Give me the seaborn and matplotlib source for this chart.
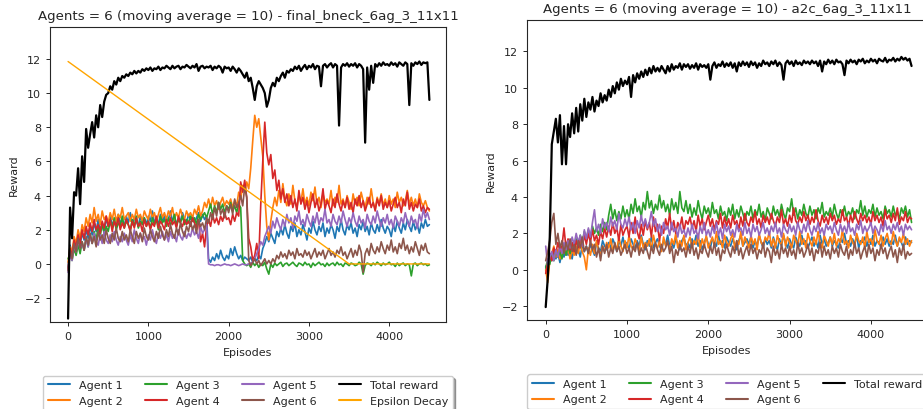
import numpy as np
import matplotlib
matplotlib.use("Agg")
import matplotlib.pyplot as plt
import seaborn as sns

# episodes sampled every 25 (moving average of 10 already applied)
episodes = np.arange(0, 4501, 25)

# ---- final_bneck_6ag_3_11x11 ----
bneck_agent1 = [
    -0.2, 1.1, 0.5, 1.3, 0.9, 1.6, 1.1, 1.8, 1.4, 2.0,
    1.5, 2.2, 1.7, 2.4, 1.9, 2.6, 2.0, 2.3, 1.8, 2.7,
    2.2, 2.8, 2.3, 2.5, 2.1, 2.9, 2.4, 2.6, 2.2, 2.8,
    2.4, 3.0, 2.3, 2.7, 2.5, 2.2, 2.8, 2.4, 2.7, 2.3,
    2.8, 2.5, 3.1, 2.4, 2.7, 2.3, 2.9, 2.5, 2.8, 2.4,
    2.6, 3.1, 2.5, 2.8, 2.3, 2.7, 2.5, 3.0, 2.6, 2.4,
    2.9, 2.6, 2.8, 2.4, 2.7, 3.0, 2.5, 2.9, 2.6, 2.8,
    0.3, 0.1, 0.4, 0.2, 0.6, 0.3, 0.8, 0.4, 0.2, 0.5,
    0.3, 0.9, 0.5, 1.0, 0.6, 0.3, 0.5, 0.2, 0.4, 0.3,
    0.2, 0.4, 0.1, 0.3, 0.2, 0.5, 0.3, 0.9, 1.2, 1.6,
    1.3, 1.8, 1.5, 1.2, 1.9, 1.6, 2.1, 1.7, 2.3, 1.8,
    1.5, 2.2, 1.9, 2.4, 1.6, 2.0, 1.7, 2.3, 1.9, 1.4,
    2.1, 1.8, 2.5, 2.0, 1.7, 2.2, 1.9, 2.4, 1.6, 2.1,
    1.8, 2.3, 2.0, 1.5, 2.2, 1.9, 2.6, 2.0, 1.7, 2.3,
    2.0, 2.4, 1.8, 2.1, 1.6, 2.3, 2.0, 2.5, 1.9, 2.2,
    1.7, 2.4, 2.0, 1.8, 2.3, 1.9, 2.6, 2.1, 1.8, 2.2,
    2.0, 1.6, 2.3, 1.9, 2.5, 2.1, 1.8, 2.4, 2.0, 2.6,
    2.2, 1.9, 2.5, 2.0, 2.3, 1.8, 2.4, 2.1, 2.6, 2.2,
    2.3]
bneck_agent2 = [
    0.1, 1.0, 0.7, 1.6, 1.2, 2.0, 1.5, 2.3, 1.9, 2.7,
    2.2, 2.9, 2.4, 3.3, 2.5, 2.9, 2.3, 3.1, 2.6, 2.8,
    2.4, 3.0, 2.6, 3.2, 2.5, 2.9, 2.7, 3.3, 2.6, 2.8,
    3.0, 2.5, 2.9, 2.6, 3.2, 2.7, 2.9, 2.5, 3.1, 2.8,
    2.6, 3.2, 2.7, 3.0, 2.5, 2.9, 3.3, 2.7, 3.0, 2.6,
    3.1, 2.8, 3.3, 2.6, 3.0, 2.7, 3.2, 2.8, 2.6, 3.1,
    2.8, 3.0, 2.7, 3.2, 2.9, 3.4, 2.8, 3.1, 3.6, 3.3,
    3.8, 3.3, 3.9, 3.4, 3.7, 3.2, 3.6, 3.9, 3.4, 3.7,
    3.5, 3.8, 3.3, 3.7, 3.4, 4.2, 3.8, 4.6, 4.2, 4.8,
    4.4, 5.6, 7.2, 8.7, 8.0, 8.5, 7.4, 6.3, 4.0, 2.2,
    1.4, 2.5, 3.3, 3.9, 3.4, 4.3, 3.6, 4.7, 3.8, 3.4,
    4.1, 3.5, 4.6, 3.7, 3.3, 4.0, 3.6, 4.4, 3.5, 3.9,
    3.4, 4.2, 3.7, 4.5, 3.5, 3.9, 3.3, 4.1, 3.6, 3.8,
    3.5, 4.3, 3.4, 3.9, 3.6, 4.6, 3.5, 3.8, 3.3, 4.0,
    3.6, 3.2, 4.1, 3.5, 3.9, 3.4, 4.2, 3.7, 3.3, 3.9,
    3.5, 4.4, 3.6, 3.2, 3.9, 3.5, 4.1, 3.4, 3.8, 3.3,
    4.0, 3.5, 3.8, 3.3, 4.2, 3.6, 3.9, 3.4, 3.7, 4.3,
    3.5, 3.9, 3.4, 3.8, 3.3, 4.1, 3.6, 3.4, 3.7, 3.3,
    3.1]
bneck_agent3 = [
    0.3, 0.6, 0.2, 0.9, 0.5, 1.1, 0.6, 1.3, 0.8, 1.5,
    1.0, 1.7, 1.2, 1.9, 1.4, 2.2, 1.6, 2.4, 1.8, 2.2,
    1.9, 2.5, 2.1, 2.7, 2.0, 2.4, 2.2, 2.8, 2.1, 2.5,
    2.3, 2.0, 2.6, 2.2, 2.8, 2.1, 2.5, 2.3, 2.7, 2.2,
    2.5, 2.1, 2.7, 2.3, 2.6, 2.0, 2.8, 2.4, 2.6, 2.2,
    2.7, 2.3, 2.5, 2.9, 2.2, 2.6, 2.4, 2.8, 2.3, 2.6,
    2.4, 2.8, 2.5, 2.7, 2.3, 2.9, 2.6, 2.8, 3.0, 2.7,
    3.1, 3.5, 2.9, 3.4, 3.0, 3.6, 3.2, 3.5, 3.0, 3.4,
    3.2, 3.6, 3.1, 3.4, 3.0, 3.5, 3.3, 0.2, 0.0, -0.1,
    0.0, -0.2, 0.1, -0.1, 0.05, -0.2, 0.0, -0.1, 0.1, -0.3,
    -0.6, 0.0, -0.2, 0.05, -0.1, 0.0, 0.1, -0.15, 0.0, 0.05,
    -0.1, 0.0, 0.1, -0.05, -0.15, 0.05, 0.0, -0.1, 0.1, -0.05,
    0.0, -0.2, 0.05, -0.1, 0.0, 0.1, -0.05, 0.0, -0.15, 0.05,
    -0.1, 0.0, 0.05, -0.1, 0.1, -0.05, 0.0, -0.15, 0.05, 0.0,
    -0.1, 0.05, 0.0, -0.1, -0.05, 0.1, 0.0, -0.6, -0.1, 0.05,
    0.0, -0.1, 0.05, -0.05, 0.1, 0.0, -0.1, 0.05, -0.05, 0.0,
    0.1, -0.05, 0.0, -0.15, 0.05, -0.1, 0.0, 0.05, -0.1, 0.0,
    -0.05, -0.7, 0.0, 0.05, -0.1, 0.0, 0.05, -0.05, 0.0, -0.1,
    -0.05]
bneck_agent4 = [
    -0.3, 0.9, 0.5, 1.4, 1.0, 1.7, 1.2, 2.0, 1.5, 2.2,
    1.7, 2.4, 1.9, 2.6, 2.0, 2.3, 1.8, 2.5, 2.1, 2.8,
    2.2, 2.6, 1.9, 2.5, 2.2, 2.7, 2.0, 2.4, 2.1, 2.6,
    2.3, 1.9, 2.5, 2.1, 2.7, 2.2, 2.4, 1.9, 2.6, 2.2,
    2.5, 2.0, 2.4, 2.2, 2.8, 2.1, 2.5, 2.3, 2.0, 2.6,
    2.2, 2.7, 2.3, 2.5, 2.1, 2.8, 2.4, 2.2, 2.6, 2.3,
    2.5, 2.2, 2.7, 2.4, 2.1, 2.6, 1.3, 1.8, 1.0, 2.2,
    2.6, 2.2, 2.9, 2.4, 2.7, 2.3, 2.8, 2.5, 3.0, 2.6,
    2.7, 2.3, 2.9, 2.5, 3.0, 2.8, 4.8, 4.2, 4.9, 3.9,
    1.5, 1.0, 0.2, 0.5, 1.2, 0.3, 3.5, 6.0, 8.3, 6.5,
    5.8, 6.4, 5.0, 5.5, 4.3, 4.9, 3.8, 4.4, 3.6, 4.1,
    3.4, 4.0, 3.3, 3.8, 3.1, 4.3, 3.5, 3.9, 3.2, 3.7,
    3.0, 3.6, 4.1, 3.3, 3.8, 3.1, 3.5, 4.4, 3.2, 3.7,
    3.4, 3.0, 3.8, 3.3, 4.1, 3.5, 3.1, 3.7, 3.3, 3.9,
    3.2, 3.6, 3.0, 3.8, 3.4, 4.0, 3.3, 3.7, 3.1, 3.5,
    3.9, 3.3, 3.6, 3.1, 3.8, 3.4, 4.0, 3.2, 3.6, 3.3,
    3.7, 3.1, 3.5, 3.9, 3.3, 3.6, 3.0, 3.8, 3.4, 4.2,
    3.2, 3.6, 3.1, 3.5, 3.3, 3.8, 3.1, 3.4, 3.0, 3.3,
    3.2]
bneck_agent5 = [
    -0.5, 0.6, 0.2, 1.1, 0.7, 1.4, 0.9, 1.2, 0.8, 1.5,
    1.0, 1.6, 1.2, 1.8, 1.3, 1.1, 1.7, 1.2, 1.9, 1.4,
    1.2, 1.7, 1.3, 1.9, 1.4, 1.1, 1.6, 1.3, 1.8, 1.4,
    1.1, 1.7, 1.3, 2.0, 1.5, 1.2, 1.8, 1.4, 1.6, 1.1,
    1.7, 1.4, 2.0, 1.5, 1.2, 1.8, 1.5, 1.9, 1.4, 1.7,
    1.3, 1.9, 1.5, 1.7, 1.3, 2.0, 1.6, 1.4, 1.9, 1.5,
    1.8, 1.6, 2.1, 1.7, 1.9, 1.5, 2.2, 1.8, 2.0, 2.3,
    0.0, -0.05, -0.05, -0.1, -0.05, -0.05, -0.1, -0.05, 0.0, -0.05,
    -0.05, -0.1, -0.05, 0.0, -0.05, -0.1, -0.05, 0.0, -0.05, -0.05,
    0.0, 0.05, 0.1, 0.3, 0.6, 0.9, 1.3, 1.1, 1.6, 1.9,
    2.2, 1.8, 2.5, 2.1, 2.7, 2.3, 2.0, 2.6, 2.2, 2.9,
    2.4, 2.7, 2.1, 2.8, 2.5, 3.1, 2.3, 2.6, 2.2, 2.9,
    2.5, 2.2, 2.8, 2.4, 3.0, 2.3, 2.7, 2.5, 3.2, 2.4,
    2.6, 2.2, 2.9, 2.5, 2.3, 2.8, 2.4, 3.1, 2.6, 2.2,
    2.7, 2.4, 3.0, 2.5, 2.2, 2.8, 2.4, 2.6, 2.1, 2.9,
    2.5, 2.3, 2.8, 2.4, 3.1, 2.6, 2.2, 2.7, 2.4, 2.9,
    2.3, 2.6, 2.1, 2.8, 2.5, 2.2, 2.7, 2.4, 3.0, 2.5,
    2.2, 2.8, 2.4, 2.6, 2.1, 2.9, 2.5, 3.2, 2.7, 3.0,
    2.6]
bneck_agent6 = [
    -0.4, 0.8, 0.3, 1.2, 0.7, 1.5, 0.9, 1.3, 0.8, 1.6,
    1.1, 1.8, 1.2, 1.6, 1.0, 1.9, 1.4, 1.7, 1.2, 2.0,
    1.5, 1.2, 1.8, 1.4, 2.1, 1.5, 1.3, 1.9, 1.4, 1.7,
    1.3, 2.0, 1.6, 1.2, 1.9, 1.5, 1.8, 1.3, 2.1, 1.6,
    1.4, 2.0, 1.6, 1.3, 1.9, 1.5, 2.2, 1.7, 1.4, 2.0,
    1.6, 2.3, 1.8, 1.5, 2.1, 1.7, 2.4, 1.9, 1.6, 2.2,
    1.9, 2.5, 2.0, 2.3, 1.8, 2.6, 2.2, 2.4, 2.0, 2.7,
    2.4, 3.0, 2.6, 3.3, 2.8, 3.6, 2.9, 3.2, 2.7, 3.4,
    3.0, 3.5, 2.9, 3.8, 3.3, 3.6, 4.0, 3.4, 4.5, 3.9,
    0.2, -0.1, 0.1, 0.3, 0.0, 0.2, -0.1, 0.1, 0.3, 0.0,
    0.2, 0.0, 0.3, 0.1, 0.5, 0.3, 0.7, 0.4, 0.6, 0.3,
    0.8, 0.5, 0.7, 0.3, 0.9, 0.5, 0.6, 0.4, 0.8, 0.5,
    0.7, 0.3, 0.6, 0.9, 0.4, 0.7, 0.5, 0.8, 0.3, 0.6,
    0.9, 0.5, 0.7, 0.4, 0.8, 0.6, 1.0, 0.5, 0.7, 0.3,
    0.6, 0.9, 0.4, 0.8, 0.5, 1.1, 0.7, -0.5, 0.6, 0.9,
    0.5, 1.2, 0.8, 0.6, 1.0, 0.7, 1.3, 0.9, 0.6, 1.1,
    0.8, 1.4, 0.7, 1.0, 0.6, 1.2, 0.9, 1.5, 0.8, 1.1,
    0.6, 1.0, 0.7, 1.3, 0.9, 0.5, 1.1, 0.8, 1.2, 0.7,
    0.6]
bneck_total = [
    -3.2, 3.3, 1.5, 4.2, 4.0, 5.6, 3.5, 6.3, 4.8, 7.9,
    6.8, 7.6, 8.3, 7.4, 8.7, 8.0, 9.3, 8.6, 9.5, 9.9,
    10.0, 10.4, 10.2, 10.7, 10.5, 10.9, 10.7, 11.0, 10.9, 11.1,
    11.0, 11.2, 11.1, 11.3, 11.15, 11.3, 11.2, 11.4, 11.3, 11.45,
    11.35, 11.5, 11.3, 11.45, 11.4, 11.55, 11.35, 11.5, 11.45, 11.6,
    11.5, 11.4, 11.6, 11.45, 11.55, 11.6, 11.4, 11.55, 11.5, 11.65,
    11.55, 11.45, 11.6, 11.5, 11.7, 11.3, 11.55, 11.6, 11.45, 11.55,
    11.5, 11.6, 11.35, 11.55, 11.45, 11.6, 11.5, 11.2, 11.55, 11.45,
    11.5, 11.3, 11.55, 11.4, 11.2, 11.45, 11.3, 11.1, 10.9, 11.2,
    10.7, 10.9, 10.3, 9.6, 10.4, 10.7, 10.5, 10.3, 10.0, 9.2,
    9.6, 10.3, 10.6, 10.4, 10.9, 10.7, 11.0, 11.2, 10.9, 11.3,
    11.2, 11.4, 11.3, 11.55, 11.4, 11.6, 11.3, 11.5, 11.65, 11.4,
    11.6, 11.5, 11.7, 11.4, 11.6, 11.55, 10.4, 11.6, 11.7, 11.5,
    11.65, 11.75, 11.5, 11.7, 11.6, 8.1, 11.5, 11.7, 11.6, 11.75,
    11.55, 11.7, 11.6, 11.75, 11.5, 11.7, 11.6, 11.4, 7.1, 11.5,
    10.2, 11.6, 10.6, 11.7, 11.55, 11.75, 11.6, 11.8, 11.65, 11.7,
    11.6, 11.8, 11.65, 11.75, 11.55, 11.8, 11.7, 11.6, 11.8, 11.7,
    9.3, 11.75, 11.6, 11.8, 11.7, 11.85, 11.65, 11.8, 11.75, 11.8,
    9.6]
eps_episodes = [0, 3500, 4500]
eps_decay = [11.85, 0.0, 0.0]

# ---- a2c_6ag_3_11x11 ----
a2c_agent1 = [
    0.2, -0.3, 0.9, 0.5, 1.1, 0.6, 0.9, 0.4, 1.0, 0.7,
    1.2, 0.8, 1.0, 0.6, 1.3, 0.9, 1.1, 0.7, 1.4, 1.0,
    1.3, 0.9, 1.4, 1.1, 0.8, 1.5, 1.2, 1.0, 1.6, 1.3,
    1.1, 1.5, 1.2, 1.7, 1.4, 1.0, 1.6, 1.3, 1.8, 1.2,
    1.5, 1.1, 1.7, 1.4, 1.2, 1.6, 1.3, 1.9, 1.4, 1.1,
    1.6, 1.3, 1.8, 1.2, 1.5, 1.7, 1.3, 1.1, 1.6, 1.4,
    1.9, 1.3, 1.5, 1.2, 1.7, 1.4, 1.1, 1.6, 1.8, 1.3,
    1.5, 1.2, 1.7, 1.4, 1.9, 1.3, 1.6, 1.1, 1.5, 1.8,
    1.4, 1.2, 1.7, 1.5, 1.3, 1.9, 1.4, 1.6, 1.2, 1.8,
    1.5, 1.3, 1.7, 1.4, 1.1, 1.6, 1.9, 1.3, 1.5, 1.7,
    1.4, 1.8, 1.2, 1.6, 1.3, 1.9, 1.5, 1.2, 1.7, 1.4,
    1.6, 1.2, 1.8, 1.4, 1.1, 1.7, 1.3, 1.9, 1.5, 1.2,
    1.7, 1.4, 1.2, 1.8, 1.5, 1.3, 1.9, 1.4, 1.6, 1.2,
    1.5, 1.8, 1.3, 1.6, 1.2, 1.9, 1.4, 1.7, 1.3, 1.5,
    1.8, 1.3, 1.6, 1.4, 1.2, 1.7, 1.5, 2.0, 1.4, 1.6,
    1.3, 1.7, 1.4, 1.9, 1.2, 1.6, 1.5, 1.8, 1.3, 1.7,
    1.4, 1.9, 1.3, 1.6, 1.5, 1.2, 1.8, 1.4, 1.7, 1.3,
    1.6, 1.4, 1.9, 1.3, 1.7, 1.5, 1.2, 1.8, 1.4, 1.6,
    1.5]
a2c_agent2 = [
    0.0, -0.7, 0.5, 0.9, 1.3, 0.7, 1.1, 0.6, 1.0, 1.4,
    0.8, 1.2, 0.6, 1.1, 0.8, 1.3, 0.9, 1.5, 1.0, 0.7,
    0.0, 1.2, 0.8, 1.4, 0.9, 1.6, 1.1, 0.8, 1.3, 1.0,
    1.5, 1.2, 1.7, 1.0, 1.4, 1.1, 1.8, 1.3, 1.0, 1.6,
    1.2, 1.9, 1.3, 1.1, 1.7, 1.4, 1.0, 1.8, 1.2, 1.5,
    1.3, 1.7, 1.1, 1.9, 1.4, 1.2, 1.6, 1.0, 1.8, 1.3,
    1.5, 1.1, 1.7, 1.4, 2.0, 1.2, 1.6, 1.3, 1.9, 1.1,
    1.5, 1.8, 1.2, 1.6, 1.4, 2.0, 1.1, 1.7, 1.3, 1.9,
    1.2, 1.5, 1.8, 1.3, 2.1, 1.4, 1.6, 1.2, 1.9, 1.5,
    1.3, 1.7, 2.0, 1.2, 1.6, 1.4, 2.1, 1.3, 1.8, 1.5,
    1.2, 1.9, 1.4, 1.7, 1.1, 2.0, 1.5, 1.3, 1.8, 1.6,
    2.1, 1.3, 1.7, 1.2, 1.9, 1.5, 1.4, 2.0, 1.3, 1.8,
    1.5, 1.2, 1.9, 1.6, 1.3, 2.1, 1.4, 1.7, 1.2, 2.0,
    1.6, 1.3, 1.8, 1.4, 2.1, 1.5, 1.2, 1.9, 1.6, 1.3,
    1.8, 1.4, 2.0, 1.3, 1.7, 1.5, 2.2, 1.4, 1.6, 1.2,
    1.9, 1.5, 1.3, 2.0, 1.6, 1.4, 1.8, 1.2, 2.1, 1.5,
    1.7, 1.3, 2.2, 1.6, 1.4, 1.9, 1.3, 1.7, 2.0, 1.5,
    1.4, 2.1, 1.6, 1.3, 1.8, 1.5, 2.0, 1.4, 1.7, 1.3,
    1.6]
a2c_agent3 = [
    0.1, 0.6, 0.3, 0.9, 0.5, 1.1, 0.7, 1.0, 0.6, 1.2,
    0.8, 1.3, 0.9, 1.5, 1.1, 1.7, 1.3, 1.9, 1.5, 2.1,
    1.7, 2.2, 1.8, 2.4, 2.0, 2.3, 1.9, 2.5, 2.1, 2.6,
    2.2, 3.0, 3.6, 2.8, 3.3, 2.7, 3.2, 2.8, 3.5, 2.9,
    3.3, 2.8, 3.6, 3.1, 3.9, 3.2, 3.5, 2.9, 3.7, 3.3,
    4.3, 3.4, 3.8, 3.1, 3.6, 3.3, 4.1, 3.4, 3.8, 3.2,
    3.6, 3.0, 3.9, 3.3, 3.7, 3.1, 4.3, 3.4, 3.2, 3.8,
    3.1, 3.6, 2.9, 3.4, 3.0, 3.8, 3.2, 2.8, 3.5, 3.1,
    3.4, 2.9, 3.7, 3.1, 3.3, 2.8, 3.5, 3.0, 3.2, 2.7,
    3.4, 3.0, 3.6, 2.8, 3.3, 2.9, 3.5, 3.1, 2.7, 3.2,
    3.0, 3.5, 2.8, 3.3, 3.0, 3.6, 2.9, 3.2, 2.7, 3.4,
    3.1, 2.8, 3.5, 3.0, 3.3, 2.9, 3.6, 3.1, 2.8, 3.4,
    3.2, 3.9, 3.0, 3.4, 2.8, 3.3, 3.0, 3.6, 3.1, 2.9,
    3.5, 3.0, 3.3, 2.8, 3.4, 3.1, 3.7, 2.9, 3.2, 3.0,
    3.4, 2.9, 3.6, 3.1, 2.8, 3.3, 3.0, 3.5, 2.9, 3.2,
    3.0, 3.4, 2.8, 3.3, 3.1, 3.8, 3.0, 3.5, 2.9, 3.3,
    3.1, 3.6, 2.9, 3.4, 3.0, 3.2, 2.8, 3.5, 3.1, 3.3,
    2.9, 3.5, 3.0, 3.2, 2.8, 3.4, 3.1, 3.5, 2.9, 3.3,
    2.6]
a2c_agent4 = [
    -0.2, 0.4, 0.8, 0.5, 1.2, 0.9, 1.5, 1.0, 1.3, 2.3,
    1.2, 1.7, 1.1, 1.5, 1.0, 1.6, 1.2, 1.8, 1.3, 1.9,
    1.4, 2.0, 1.5, 2.2, 1.6, 1.9, 1.4, 2.1, 1.7, 2.3,
    1.8, 2.4, 1.9, 2.6, 2.0, 2.3, 1.6, 2.5, 1.9, 2.2,
    2.4, 1.8, 2.6, 2.0, 2.9, 2.1, 1.7, 2.5, 1.9, 2.7,
    2.2, 2.6, 1.8, 2.9, 2.1, 2.5, 1.6, 2.4, 2.0, 2.8,
    2.3, 3.1, 2.2, 2.7, 2.0, 2.6, 2.3, 2.9, 2.1, 2.7,
    2.5, 2.9, 2.3, 2.7, 2.1, 3.0, 2.4, 2.8, 2.2, 2.6,
    3.0, 2.4, 2.8, 2.2, 2.7, 2.5, 3.1, 2.3, 2.9, 2.4,
    2.8, 2.3, 3.0, 2.5, 2.7, 2.2, 2.9, 2.4, 3.1, 2.6,
    2.4, 2.9, 2.6, 3.2, 2.5, 2.8, 2.3, 3.0, 2.6, 2.9,
    2.5, 3.1, 2.7, 2.4, 2.9, 2.6, 3.3, 2.5, 2.8, 2.4,
    3.0, 2.6, 3.4, 2.7, 2.5, 2.9, 2.6, 3.2, 2.7, 3.0,
    2.5, 2.9, 2.6, 3.3, 2.7, 2.4, 3.0, 2.6, 2.9, 2.5,
    3.1, 2.7, 3.0, 2.5, 2.8, 2.6, 3.3, 2.7, 2.9, 2.4,
    3.0, 2.6, 3.2, 2.8, 2.5, 3.1, 2.7, 3.0, 2.6, 2.9,
    2.5, 3.2, 2.7, 3.0, 2.6, 2.9, 2.4, 3.3, 2.8, 3.0,
    2.6, 3.1, 2.7, 3.4, 2.5, 2.9, 2.7, 3.2, 2.6, 2.9,
    2.8]
a2c_agent5 = [
    1.3, 0.2, 0.7, 1.0, 0.5, 1.1, 0.7, 1.3, 0.9, 1.5,
    1.1, 1.6, 1.2, 1.8, 1.4, 2.0, 1.5, 1.9, 1.3, 2.2,
    1.7, 2.3, 1.8, 2.6, 3.3, 2.1, 2.5, 2.0, 2.8, 2.3,
    2.6, 2.1, 2.9, 2.4, 2.7, 2.2, 3.1, 2.5, 2.3, 2.8,
    2.4, 2.9, 2.2, 2.6, 2.0, 2.7, 2.3, 3.0, 2.4, 2.8,
    2.3, 2.6, 3.2, 2.4, 2.8, 2.1, 2.5, 1.9, 2.6, 2.2,
    2.4, 1.9, 2.6, 2.1, 2.3, 1.8, 2.5, 2.0, 2.2, 1.8,
    2.3, 1.9, 2.5, 2.0, 2.2, 1.7, 2.4, 2.0, 2.6, 1.9,
    2.2, 1.8, 2.4, 2.0, 2.6, 1.9, 2.3, 1.7, 2.5, 2.1,
    2.4, 1.9, 2.2, 1.8, 2.5, 2.1, 2.3, 1.9, 2.6, 2.0,
    2.3, 1.8, 2.5, 2.1, 2.4, 1.9, 2.2, 2.6, 2.0, 2.3,
    1.9, 2.4, 2.1, 2.6, 2.0, 2.3, 1.8, 2.5, 2.2, 2.0,
    2.5, 2.1, 2.4, 1.9, 2.6, 2.2, 2.0, 2.5, 2.1, 2.7,
    2.2, 1.9, 2.4, 2.1, 2.6, 2.0, 2.3, 1.9, 2.5, 2.2,
    2.4, 2.0, 2.6, 2.2, 1.9, 2.5, 2.1, 2.4, 2.0, 2.6,
    2.1, 2.3, 1.9, 2.5, 2.2, 2.7, 2.0, 2.4, 2.1, 2.3,
    2.6, 2.0, 2.4, 2.2, 1.9, 2.5, 2.1, 2.7, 2.2, 2.4,
    2.0, 2.5, 2.2, 2.6, 2.1, 2.4, 1.9, 2.5, 2.2, 2.4,
    2.2]
a2c_agent6 = [
    0.5, 1.0, 1.6, 2.6, 3.1, 1.4, 2.0, 1.2, 1.6, 0.9,
    1.5, 1.1, 1.7, 1.0, 1.4, 0.8, 1.6, 1.2, 1.8, 1.0,
    1.3, 0.9, 1.6, 1.1, 1.4, 0.7, 1.2, 0.5, 1.3, 0.9,
    1.4, 0.7, 1.2, 0.9, 1.5, 1.0, 1.3, 0.8, 1.1, 1.4,
    0.9, 1.2, 0.7, 1.3, 1.0, 1.5, 0.8, 1.2, 0.9, 1.4,
    1.0, 0.6, 1.3, 0.9, 1.5, 1.1, 0.8, 1.4, 1.0, 1.2,
    1.6, 0.9, 1.3, 0.4, 1.1, 0.8, 1.4, 1.0, 1.2, 0.7,
    1.3, 0.9, 1.5, 0.8, 1.2, 0.6, 1.1, 0.9, 1.4, 1.0,
    0.7, 1.3, 0.9, 1.5, 0.8, 1.2, 0.5, 1.1, 0.9, 1.4,
    1.0, 0.7, 1.3, 0.9, 1.6, 0.8, 1.2, 0.6, 1.0, 1.3,
    0.8, 1.4, 0.9, 1.2, 0.6, 1.1, 0.9, 1.5, 0.7, 1.2,
    1.0, 0.4, 1.3, 0.8, 1.1, 0.6, 1.4, 0.9, 1.2, 0.7,
    1.3, 0.8, 1.1, 0.6, 1.5, 0.9, 1.2, 0.7, 1.0, 1.4,
    0.8, 1.2, 0.5, 1.1, 0.9, 1.5, 0.7, 1.3, 0.8, 1.1,
    0.6, 1.3, 0.9, 1.2, 0.7, 1.4, 1.0, 0.8, 1.3, 0.6,
    1.1, 0.8, 1.5, 0.9, 1.2, 0.6, 1.0, 1.3, 0.7, 1.4,
    0.9, 1.2, 0.5, 1.1, 0.8, 1.4, 0.9, 1.2, 0.6, 1.0,
    1.3, 0.7, 1.1, 0.4, 1.2, 0.8, 1.4, 0.6, 1.0, 0.8,
    0.9]
a2c_total = [
    -2.05, -0.5, 1.8, 6.9, 7.6, 8.3, 7.0, 8.5, 5.8, 7.9,
    5.8, 8.0, 7.3, 8.6, 7.5, 8.9, 7.6, 9.1, 8.2, 9.4,
    8.4, 9.2, 8.8, 9.5, 8.7, 9.3, 9.0, 9.7, 9.2, 9.6,
    9.3, 9.9, 9.5, 10.1, 9.7, 10.3, 9.9, 10.5, 10.1, 10.4,
    10.2, 10.6, 9.5, 10.7, 10.3, 10.8, 10.5, 10.9, 10.6, 11.0,
    10.7, 11.1, 10.8, 11.2, 10.9, 11.1, 10.9, 11.2, 11.0, 10.8,
    11.2, 10.9, 11.3, 11.0, 11.2, 11.1, 11.35, 11.0, 11.3, 11.15,
    11.3, 11.05, 11.25, 11.1, 11.35, 11.0, 11.3, 11.15, 11.25, 11.1,
    11.3, 10.45, 11.2, 11.4, 11.1, 11.3, 11.2, 11.45, 11.15, 11.35,
    11.2, 11.4, 11.1, 11.35, 10.9, 11.4, 11.2, 11.45, 11.25, 11.4,
    11.15, 11.45, 11.25, 11.4, 11.1, 11.35, 11.2, 11.5, 11.3, 11.4,
    11.2, 11.45, 11.3, 11.5, 11.2, 11.4, 11.25, 10.45, 11.35, 11.5,
    11.3, 11.45, 11.2, 11.5, 11.3, 11.4, 11.25, 11.5, 11.35, 11.45,
    11.3, 11.5, 11.35, 11.45, 11.2, 11.5, 10.9, 11.45, 11.3, 11.55,
    11.35, 11.5, 11.3, 11.55, 11.4, 11.45, 11.3, 10.7, 11.5, 11.35,
    11.55, 11.4, 11.5, 11.3, 11.55, 11.45, 11.6, 11.35, 11.5, 11.4,
    11.6, 11.45, 11.55, 11.35, 11.6, 11.5, 11.45, 11.65, 11.4, 11.55,
    11.5, 11.65, 11.45, 11.6, 11.5, 11.7, 11.55, 11.65, 11.5, 11.6,
    11.2]

agent_labels = ["Agent 1", "Agent 2", "Agent 3", "Agent 4", "Agent 5", "Agent 6"]
agent_colors = sns.color_palette("tab10", 6)

sns.set_style("ticks")
plt.rcParams["font.family"] = ["DejaVu Sans"]

DPI = 100
W, H = 923, 410
fig = plt.figure(figsize=(W / DPI, H / DPI), dpi=DPI)


def px_axes(left, top, right, bottom):
    return fig.add_axes([left / W, 1 - bottom / H, (right - left) / W, (bottom - top) / H])


ax1 = px_axes(50, 28, 446, 323)
ax2 = px_axes(527, 21, 927, 321)

panels = [
    (ax1, [bneck_agent1, bneck_agent2, bneck_agent3, bneck_agent4, bneck_agent5, bneck_agent6], bneck_total,
     "final_bneck_6ag_3_11x11", (-225, 4707), (-3.4, 13.87)),
    (ax2, [a2c_agent1, a2c_agent2, a2c_agent3, a2c_agent4, a2c_agent5, a2c_agent6], a2c_total,
     "a2c_6ag_3_11x11", (-230, 4690), (-2.76, 13.73)),
]

FS = 8.0
for ax, agents, total, name, xlim, ylim in panels:
    for vals, lab, col in zip(agents, agent_labels, agent_colors):
        sns.lineplot(x=episodes, y=vals, ax=ax, color=col, label=lab, linewidth=1.2, estimator=None)
    sns.lineplot(x=episodes, y=total, ax=ax, color="black", label="Total reward", linewidth=1.6, estimator=None)
    if ax is ax1:
        sns.lineplot(x=eps_episodes, y=eps_decay, ax=ax, color="orange", label="Epsilon Decay",
                     linewidth=1.0, estimator=None)
    ax.set_xlim(*xlim)
    ax.set_ylim(*ylim)
    ax.set_xticks([0, 1000, 2000, 3000, 4000])
    ax.set_yticks([-2, 0, 2, 4, 6, 8, 10, 12])
    ax.tick_params(labelsize=FS, length=3, width=0.7, colors=".15")
    for sp in ax.spines.values():
        sp.set_linewidth(0.8)
    ax.set_xlabel("Episodes", fontsize=FS)
    ax.set_ylabel("Reward", fontsize=FS)
    ax.set_title(f"Agents = 6 (moving average = 10) - {name}", fontsize=9.6)
    leg = ax.legend(loc="upper center", bbox_to_anchor=(0.5, -0.163), ncol=4, fontsize=FS,
                    shadow=True, frameon=True, handlelength=2.0, columnspacing=2.0)
    for line in leg.get_lines():
        line.set_linewidth(1.5)

fig.savefig("out.png", dpi=DPI)
